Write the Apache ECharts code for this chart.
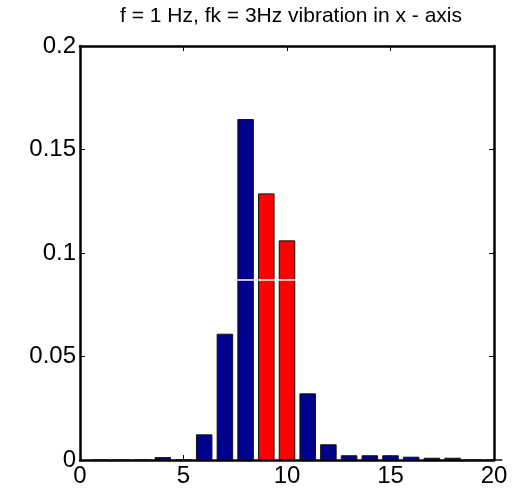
<!DOCTYPE html>
<html>
<head>
<meta charset="utf-8">
<script src="https://cdn.jsdelivr.net/npm/echarts@6/dist/echarts.min.js"></script>
<style>html,body{margin:0;padding:0;background:#fff}#c{width:519px;height:494px}</style>
</head>
<body>
<div id="c"></div>
<script>
const titleText = "f = 1 Hz, fk = 3Hz vibration in x - axis";
const bins = [1,2,3,4,5,6,7,8,9,10,11,12,13,14,15,16,17,18,19,20];
const values = [0,0,0,0.0014,0,0.0124,0.061,0.1647,0.1288,0.1061,0.0322,0.0076,0.0023,0.0023,0.0023,0.0016,0.0011,0.0011,0,0];
const redBins = [9,10];
const thresholdValue = 0.087;
const thresholdSpan = [7.6,10.4];
const xTicks = [0,5,10,15,20];
const yTicks = [0,0.05,0.1,0.15,0.2];

const FONT = "'Liberation Sans', Arial, sans-serif";
const blue = '#00008f', red = '#ff0000';

const chart = echarts.init(document.getElementById('c'), null, {renderer:'canvas'});
const barData = bins.map((b,i)=>({value:[b, values[i]], itemStyle:{color: redBins.includes(b)?red:blue}}));
const axisCommon = {
  axisLine:{show:true, onZero:false, lineStyle:{color:'#000', width:2.5}},
  axisTick:{show:true, inside:true, length:5, lineStyle:{color:'#000', width:1}},
  splitLine:{show:false}
};
chart.setOption({
  animation:false,
  backgroundColor:'#fff',
  title:{text:titleText, left:286, top:1, textAlign:'center',
    textStyle:{fontFamily:FONT, fontSize:21, fontWeight:'normal', color:'#000'}},
  grid:{left:80, right:25, top:46, bottom:34, show:false},
  xAxis:[
    Object.assign({type:'value', min:xTicks[0], max:xTicks[xTicks.length-1], interval:5, position:'bottom',
      axisLabel:{fontFamily:FONT, fontSize:24, color:'#000', margin:4}}, axisCommon),
    Object.assign({type:'value', min:xTicks[0], max:xTicks[xTicks.length-1], interval:5, position:'top',
      axisLabel:{show:false}}, axisCommon)
  ],
  yAxis:[
    Object.assign({type:'value', min:yTicks[0], max:yTicks[yTicks.length-1], interval:0.05, position:'left',
      axisLabel:{fontFamily:FONT, fontSize:24, color:'#000', margin:4, formatter:v=>String(+v.toFixed(2))}}, axisCommon),
    Object.assign({type:'value', min:yTicks[0], max:yTicks[yTicks.length-1], interval:0.05, position:'right',
      axisLabel:{show:false}}, axisCommon)
  ],
  series:[
    {type:'bar', xAxisIndex:0, yAxisIndex:0, barWidth:16.5, data:barData,
      itemStyle:{borderColor:'#111', borderWidth:1}},
    {type:'line', xAxisIndex:0, yAxisIndex:0, symbol:'none', z:5,
      data:[[thresholdSpan[0], thresholdValue],[thresholdSpan[1], thresholdValue]],
      lineStyle:{color:'#fff', width:1.5}}
  ]
});
</script>
</body>
</html>
